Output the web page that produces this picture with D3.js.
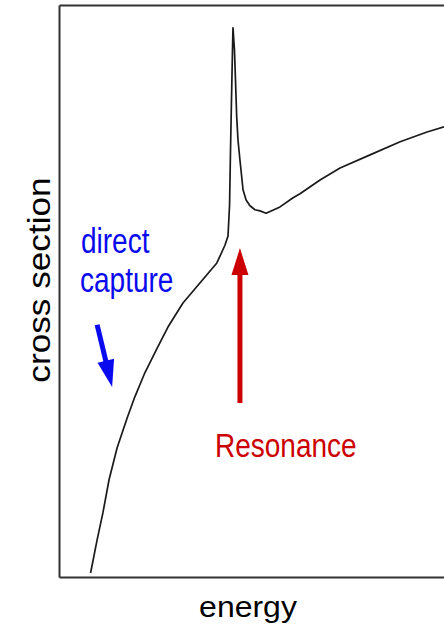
<!DOCTYPE html>
<html>
<head>
<meta charset="utf-8">
<script src="https://cdn.jsdelivr.net/npm/d3@7"></script>
<style>
  html, body { margin: 0; padding: 0; background: #fff; }
  svg { display: block; }
  text { font-family: "Liberation Sans", Arial, sans-serif; }
</style>
</head>
<body>
<svg id="chart" width="444" height="628"></svg>
<script>
// Energy (arbitrary units, 0–100) and cross section (arbitrary units, 0–100)
const energy = [8.2, 9.9, 11.4, 13.0, 15.1, 17.7, 19.7, 22.3, 25.5, 28.3, 32.2, 36.6, 41.0, 43.1, 43.9,
                44.3, 44.55, 44.8, 45.06, 45.19, 45.58, 45.84, 46.16, 46.49, 47.0, 47.8, 48.6, 49.6, 50.9,
                52.2, 53.8, 57.4, 60.8, 62.6, 67.8, 73.0, 80.8, 88.6, 95.6, 100];
const crossSection = [0.7, 6.5, 11.2, 17.0, 22.6, 27.8, 31.5, 35.7, 40.0, 43.7, 47.9, 51.4, 54.9, 58.0, 59.6,
                      65.0, 74.6, 83.4, 92.1, 96.0, 92.1, 86.9, 80.4, 76.4, 72.9, 67.7, 65.9, 64.9, 64.2,
                      64.0, 63.6, 64.7, 66.3, 67.0, 69.4, 71.5, 73.8, 76.1, 77.8, 78.7];

const xLabel = "energy";
const yLabel = "cross section";

// Annotations (data coordinates)
const directCaptureLines = ["direct", "capture"];
const directCaptureArrow = [[9.9, 44.1], [13.8, 33.2]];   // [from, to]
const resonanceLabel = "Resonance";
const resonanceArrow = [[47.0, 30.4], [47.0, 57.5]];      // [from, to]

const W = 444, H = 628;
const margin = { left: 59, top: 5, right: 0, bottom: 51 };
const svg = d3.select("#chart");

const x = d3.scaleLinear().domain([0, 100]).range([margin.left, W - margin.right]);
const y = d3.scaleLinear().domain([0, 100]).range([H - margin.bottom, margin.top]);

// Frame (axes without ticks)
svg.append("g")
  .attr("transform", `translate(0,${y(0)})`)
  .call(d3.axisBottom(x).ticks(0).tickSizeOuter(0))
  .call(g => g.select(".domain").attr("stroke", "#333").attr("stroke-width", 2));
svg.append("g")
  .attr("transform", `translate(${x(0)},0)`)
  .call(d3.axisLeft(y).ticks(0).tickSizeOuter(0))
  .call(g => g.select(".domain").attr("stroke", "#333").attr("stroke-width", 2));
svg.append("g")
  .attr("transform", `translate(0,${y(100)})`)
  .call(d3.axisTop(x).ticks(0).tickSizeOuter(0))
  .call(g => g.select(".domain").attr("stroke", "#333").attr("stroke-width", 2));

// Curve
const line = d3.line().x((d, i) => x(energy[i])).y((d, i) => y(crossSection[i]));
svg.append("path")
  .datum(energy)
  .attr("d", line)
  .attr("fill", "none")
  .attr("stroke", "#1a1a1a")
  .attr("stroke-width", 1.7)
  .attr("stroke-linejoin", "round");

// Arrow helper
function arrow(from, to, color) {
  const x1 = x(from[0]), y1 = y(from[1]), x2 = x(to[0]), y2 = y(to[1]);
  const dx = x2 - x1, dy = y2 - y1, len = Math.hypot(dx, dy);
  const ux = dx / len, uy = dy / len, px = -uy, py = ux;
  const headL = 27, headW = 8.5;
  const bx = x2 - ux * headL, by = y2 - uy * headL;
  svg.append("line")
    .attr("x1", x1).attr("y1", y1).attr("x2", bx + ux * 2).attr("y2", by + uy * 2)
    .attr("stroke", color).attr("stroke-width", 5);
  svg.append("path")
    .attr("d", `M${x2},${y2}L${bx + px * headW},${by + py * headW}L${bx - px * headW},${by - py * headW}Z`)
    .attr("fill", color);
}

arrow(directCaptureArrow[0], directCaptureArrow[1], "#0a0aee");
arrow(resonanceArrow[0], resonanceArrow[1], "#cc0000");

// Annotation text (glyphs are vertically stretched in the original)
function label(px, py, sx, sy, size, color, str, anchor) {
  svg.append("text")
    .attr("transform", `translate(${px},${py}) scale(${sx},${sy})`)
    .attr("text-anchor", anchor || "start")
    .attr("font-size", size).attr("fill", color)
    .text(str);
}
label(81, 253, 1, 1.25, 28, "#0a0aee", directCaptureLines[0]);
label(80, 292, 1, 1.25, 28, "#0a0aee", directCaptureLines[1]);
label(215, 457, 1, 1.2, 28, "#cc0000", resonanceLabel);

// Axis labels
label(248, 617, 1, 0.95, 32, "#000", xLabel, "middle");
svg.append("text")
  .attr("transform", "translate(50,280) rotate(-90) scale(1.1,1)")
  .attr("text-anchor", "middle")
  .attr("font-size", 32).attr("fill", "#000")
  .text(yLabel);
</script>
</body>
</html>
